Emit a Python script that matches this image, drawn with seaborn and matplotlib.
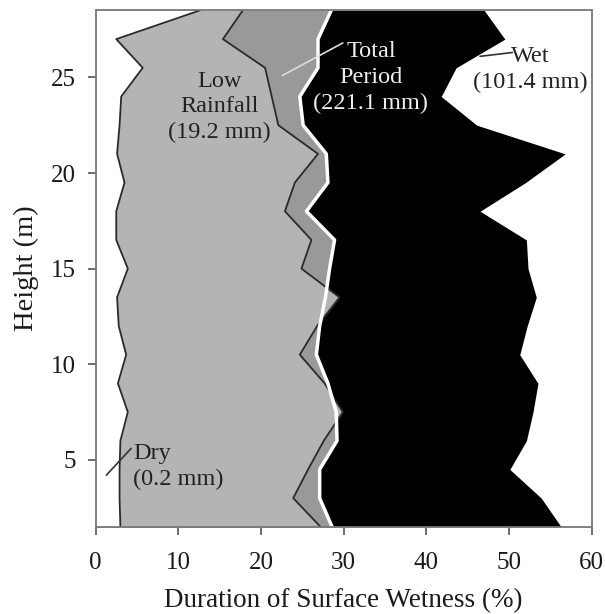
import numpy as np
import pandas as pd
import seaborn as sns
import matplotlib.pyplot as plt

# Heights of the sensors (m), bottom to top
height = [1.5, 3, 4.5, 6, 7.5, 9, 10.5, 12, 13.5, 15, 16.5, 18, 19.5, 21, 22.5, 24, 25.5, 27, 28.5]

# Duration of surface wetness (%) for each weather class
wet = [56.3, 53.9, 50.1, 52.1, 52.9, 53.5, 51.3, 52.2, 53.3, 52.3, 52.1, 46.5, 52.0, 56.8, 46.1, 41.8, 43.6, 49.5, 47.0]
total = [28.6, 27.1, 27.1, 29.2, 29.1, 28.1, 26.7, 27.1, 27.8, 28.3, 28.9, 25.5, 28.1, 27.9, 25.1, 24.7, 26.9, 26.9, 28.5]
low_rain = [27.2, 23.9, 25.7, 27.6, 29.9, 27.7, 24.7, 26.8, 29.5, 24.9, 26.1, 22.9, 24.1, 26.9, 22.1, 21.3, 20.5, 15.4, 17.8]
dry = [3.0, 2.9, 2.9, 3.0, 3.9, 2.7, 3.7, 2.8, 2.6, 3.9, 2.5, 2.5, 3.5, 2.6, 2.9, 3.1, 5.7, 2.5, 12.6]

df = pd.DataFrame({"height": height, "wet": wet, "total": total,
                   "low": low_rain, "dry": dry})

sns.set_style("white")
plt.rcParams['font.family'] = ['Liberation Serif', 'DejaVu Serif']

fig = plt.figure(figsize=(6.05, 6.14), dpi=100)
ax = fig.add_axes([0.158, 0.142, 0.820, 0.841])

# area fills, drawn from the back to the front
ax.fill_betweenx(df["height"], 0, df["wet"], color="black", lw=0, zorder=1)
ax.fill_betweenx(df["height"], 0, df["total"], color="#999999", lw=0, zorder=2)
ax.fill_betweenx(df["height"], 0, df["low"], color="#b4b4b4", lw=0, zorder=3)
ax.fill_betweenx(df["height"], 0, df["dry"], color="white", lw=0, zorder=4)

sns.lineplot(data=df, x="low", y="height", orient="y", color="#2a2a2a", lw=1.3, ax=ax, zorder=5)
sns.lineplot(data=df, x="dry", y="height", orient="y", color="#2a2a2a", lw=1.3, ax=ax, zorder=5)
sns.lineplot(data=df, x="total", y="height", orient="y", color="white", lw=2.5, ax=ax, zorder=6)

ax.set_xlim(0, 60)
ax.set_ylim(1.5, 28.5)
ax.set_xticks(np.arange(0, 61, 10))
ax.set_yticks([5, 10, 15, 20, 25])
ax.tick_params(axis="both", labelsize=18, direction="out", length=6, width=1.2,
               color="#555555", colors="#1a1a1a", bottom=True, left=True)
ax.tick_params(axis="x", pad=12)
ax.tick_params(axis="y", pad=8)
for s in ax.spines.values():
    s.set_color("#777777")
    s.set_linewidth(1.3)
    s.set_zorder(10)

ax.set_xlabel("Duration of Surface Wetness (%)", fontsize=19.5, color="#1a1a1a", labelpad=10)
ax.set_ylabel("Height (m)", fontsize=20.5, color="#1a1a1a", labelpad=9)

# series labels with leader lines
txt = dict(fontsize=17.5, linespacing=1.3, zorder=8)
ax.text(15.0, 23.45, "Low\nRainfall\n(19.2 mm)", ha="center", va="center", color="#222222", **txt)
ax.text(33.3, 25.0, "Total\nPeriod\n(221.1 mm)", ha="center", va="center", color="#eeeeee", **txt)
ax.plot([22.6, 29.9], [25.1, 26.8], color="#dddddd", lw=1.2, zorder=8)
ax.text(52.6, 25.4, "Wet\n(101.4 mm)", ha="center", va="center", color="#222222", **txt)
ax.plot([46.5, 50.4], [26.1, 26.3], color="#333333", lw=1.2, zorder=8)
ax.text(4.5, 4.63, "Dry\n(0.2 mm)", ha="left", va="center", color="#222222", **txt)
ax.plot([1.3, 4.3], [4.2, 5.6], color="#333333", lw=1.2, zorder=8)

fig.savefig("out.png", dpi=100)
